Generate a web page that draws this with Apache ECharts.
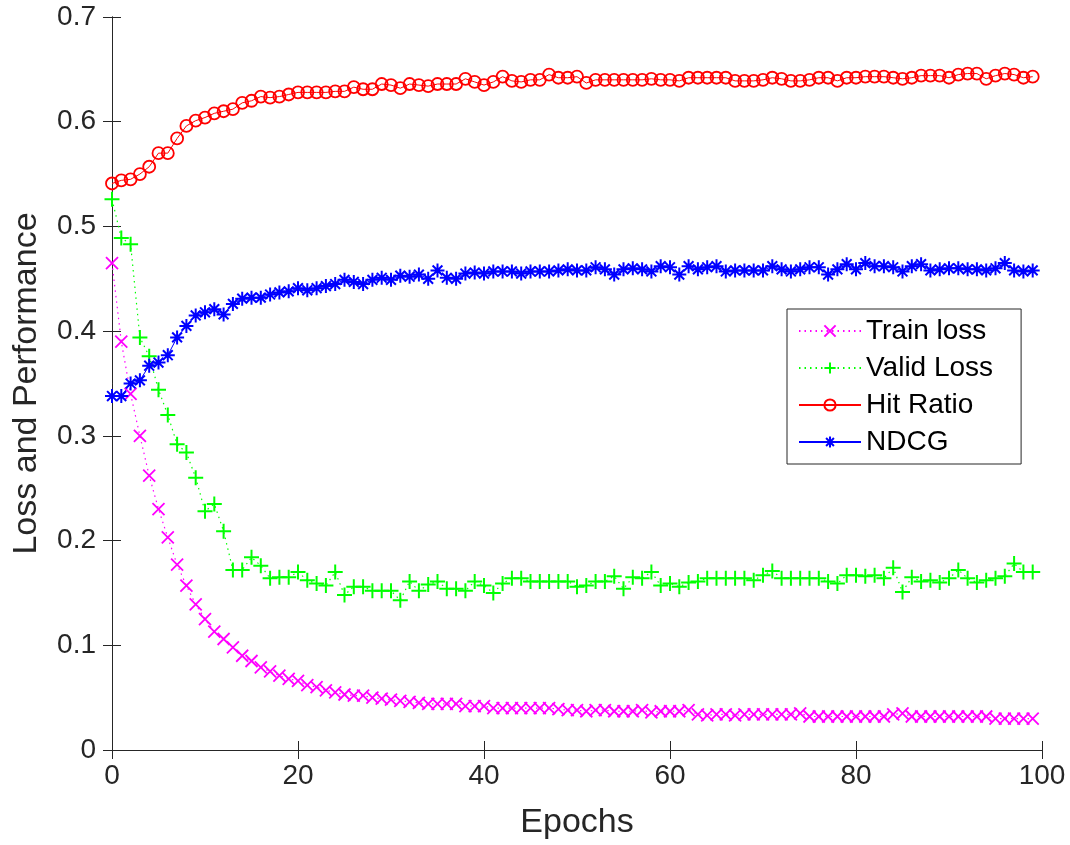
<!DOCTYPE html>
<html style="height: 100%; width: 100%">
  <head>
    <meta charset="utf-8" />
  </head>
  <body style="height: 100%; width: 100%; margin: 0; background: #fff">
    <div id="chart-panel" style="height: 845px; width: 1070px"></div>
    <script
      type="text/javascript"
      src="https://cdn.jsdelivr.net/npm/echarts@6/dist/echarts.min.js"
    ></script>

    <script type="text/javascript">
      // values, one per epoch (0..99)
      var trainLoss = [
        0.465, 0.39, 0.34, 0.3, 0.262, 0.23, 0.203, 0.177, 0.157, 0.139,
        0.125, 0.113, 0.106, 0.098, 0.09, 0.085, 0.079, 0.075, 0.071, 0.068,
        0.066, 0.062, 0.06, 0.057, 0.055, 0.053, 0.052, 0.052, 0.05, 0.049,
        0.048, 0.047, 0.046, 0.045, 0.044, 0.044, 0.044, 0.044, 0.042, 0.042,
        0.042, 0.04, 0.04, 0.04, 0.04, 0.04, 0.04, 0.04, 0.039, 0.038,
        0.038, 0.037, 0.038, 0.038, 0.037, 0.037, 0.037, 0.038, 0.036, 0.037,
        0.037, 0.037, 0.038, 0.034, 0.033, 0.034, 0.034, 0.033, 0.034, 0.034,
        0.034, 0.034, 0.034, 0.034, 0.035, 0.032, 0.032, 0.032, 0.032, 0.032,
        0.032, 0.032, 0.032, 0.032, 0.034, 0.035, 0.032, 0.032, 0.032, 0.032,
        0.032, 0.032, 0.032, 0.032, 0.032, 0.03, 0.03, 0.03, 0.03, 0.03
      ];
      var validLoss = [
        0.526, 0.489, 0.483, 0.394, 0.376, 0.344, 0.32, 0.292, 0.284, 0.26,
        0.228, 0.235, 0.209, 0.172, 0.172, 0.184, 0.176, 0.164, 0.165, 0.165,
        0.17, 0.162, 0.159, 0.157, 0.17, 0.148, 0.156, 0.156, 0.152, 0.152,
        0.152, 0.143, 0.161, 0.152, 0.158, 0.161, 0.154, 0.154, 0.152, 0.161,
        0.157, 0.15, 0.159, 0.164, 0.164, 0.161, 0.161, 0.161, 0.161, 0.161,
        0.156, 0.157, 0.161, 0.161, 0.166, 0.154, 0.165, 0.164, 0.17, 0.157,
        0.159, 0.156, 0.16, 0.161, 0.164, 0.164, 0.164, 0.164, 0.164, 0.162,
        0.167, 0.171, 0.164, 0.164, 0.164, 0.164, 0.164, 0.161, 0.159, 0.167,
        0.167, 0.166, 0.167, 0.164, 0.174, 0.151, 0.165, 0.161, 0.162, 0.16,
        0.164, 0.172, 0.164, 0.16, 0.162, 0.164, 0.166, 0.178, 0.17, 0.17
      ];
      var hitRatio = [
        0.541, 0.544, 0.545, 0.55, 0.557, 0.57, 0.57, 0.584, 0.596, 0.601,
        0.604, 0.608, 0.61, 0.612, 0.618, 0.62, 0.624, 0.623, 0.624, 0.626,
        0.628, 0.628, 0.628, 0.628, 0.629, 0.629, 0.633, 0.631, 0.631, 0.636,
        0.635, 0.632, 0.636, 0.635, 0.634, 0.636, 0.636, 0.636, 0.641, 0.638,
        0.635, 0.638, 0.643, 0.639, 0.638, 0.64, 0.64, 0.645, 0.642, 0.642,
        0.643, 0.637, 0.64, 0.64, 0.64, 0.64, 0.64, 0.64, 0.641, 0.64,
        0.64, 0.639, 0.642, 0.642, 0.642, 0.642, 0.642, 0.639, 0.639, 0.639,
        0.64, 0.642, 0.641, 0.639, 0.639, 0.64, 0.642, 0.642, 0.639, 0.642,
        0.642, 0.643, 0.643, 0.643, 0.642, 0.641, 0.642, 0.644, 0.644, 0.644,
        0.642, 0.645, 0.646, 0.646, 0.641, 0.644, 0.646, 0.645, 0.642, 0.643
      ];
      var ndcg = [
        0.338, 0.338, 0.35, 0.353, 0.367, 0.37, 0.377, 0.394, 0.405, 0.415,
        0.418, 0.421, 0.416, 0.426, 0.431, 0.432, 0.432, 0.435, 0.437, 0.438,
        0.441, 0.439, 0.441, 0.443, 0.445, 0.449, 0.447, 0.445, 0.449, 0.451,
        0.449, 0.453, 0.452, 0.454, 0.45, 0.458, 0.451, 0.45, 0.455, 0.456,
        0.455, 0.457, 0.457, 0.457, 0.455, 0.457, 0.457, 0.457, 0.458, 0.459,
        0.458, 0.458, 0.461, 0.459, 0.454, 0.459, 0.46, 0.459, 0.457, 0.462,
        0.461, 0.454, 0.462, 0.459, 0.461, 0.462, 0.457, 0.458, 0.458, 0.458,
        0.458, 0.462, 0.459, 0.457, 0.459, 0.461, 0.461, 0.454, 0.459, 0.464,
        0.459, 0.465, 0.462, 0.462, 0.461, 0.457, 0.462, 0.464, 0.458, 0.459,
        0.46, 0.46, 0.459, 0.459, 0.458, 0.46, 0.465, 0.458, 0.457, 0.458
      ];
      var seriesNames = ["Train loss", "Valid Loss", "Hit Ratio", "NDCG"];

      var axisColor = "#262626";
      var font = "Liberation Sans, Arial, Helvetica, sans-serif";

      // marker shapes drawn as strokes
      var crossPath = "path://M0,0L10,10M10,0L0,10";
      var plusPath = "path://M5,0L5,10M0,5L10,5";
      var starPath =
        "path://M5,0L5,10M0,5L10,5M1.5,1.5L8.5,8.5M8.5,1.5L1.5,8.5";

      function pairs(arr) {
        return arr.map(function (v, i) {
          return [i, v];
        });
      }

      var dom = document.getElementById("chart-panel");
      var myChart = echarts.init(dom, null, { renderer: "canvas" });

      var boxAxis = {
        axisLine: { show: true, lineStyle: { color: axisColor, width: 1 } },
        axisTick: { show: true, inside: true, length: 9, lineStyle: { color: axisColor } },
        splitLine: { show: false },
      };

      var option = {
        backgroundColor: "#fff",
        animation: false,
        grid: { left: 112, top: 17, right: 28, bottom: 93 },
        legend: {
          orient: "vertical",
          left: 787,
          top: 309,
          padding: [8, 28, 8, 11],
          itemGap: 9,
          itemWidth: 62,
          itemHeight: 14,
          borderColor: axisColor,
          borderWidth: 1,
          backgroundColor: "#fff",
          textStyle: { fontFamily: font, fontSize: 28, color: "#000" },
          data: seriesNames,
        },
        xAxis: [
          Object.assign({}, boxAxis, {
            type: "value",
            min: 0,
            max: 100,
            interval: 20,
            name: "Epochs",
            nameLocation: "middle",
            nameGap: 56,
            nameTextStyle: { fontFamily: font, fontSize: 34, color: axisColor },
            axisLabel: { fontFamily: font, fontSize: 28, color: axisColor, margin: 12 },
          }),
          Object.assign({}, boxAxis, {
            type: "value",
            position: "top",
            min: 0,
            max: 100,
            interval: 20,
            axisLabel: { show: false },
          }),
        ],
        yAxis: [
          Object.assign({}, boxAxis, {
            type: "value",
            min: 0,
            max: 0.7,
            interval: 0.1,
            name: "Loss and Performance",
            nameLocation: "middle",
            nameGap: 68,
            nameTextStyle: { fontFamily: font, fontSize: 34, color: axisColor },
            axisLabel: { fontFamily: font, fontSize: 28, color: axisColor, margin: 16 },
          }),
          Object.assign({}, boxAxis, {
            type: "value",
            position: "right",
            min: 0,
            max: 0.7,
            interval: 0.1,
            axisLabel: { show: false },
          }),
        ],
        series: [
          {
            name: seriesNames[0],
            type: "line",
            data: pairs(trainLoss),
            symbol: crossPath,
            symbolSize: 12,
            color: "#ff00ff",
            itemStyle: { color: "transparent", borderColor: "#ff00ff", borderWidth: 1.8 },
            lineStyle: { color: "#ff00ff", width: 1.2, type: [1.5, 4] },
          },
          {
            name: seriesNames[1],
            type: "line",
            data: pairs(validLoss),
            symbol: plusPath,
            symbolSize: 15,
            color: "#00ff00",
            itemStyle: { color: "transparent", borderColor: "#00ff00", borderWidth: 2 },
            lineStyle: { color: "#00ff00", width: 1.2, type: [1.5, 4] },
          },
          {
            name: seriesNames[2],
            type: "line",
            data: pairs(hitRatio),
            symbol: "circle",
            symbolSize: 12,
            color: "#ff0000",
            itemStyle: { color: "transparent", borderColor: "#ff0000", borderWidth: 1.8 },
            lineStyle: { color: "#ff0000", width: 1 },
          },
          {
            name: seriesNames[3],
            type: "line",
            data: pairs(ndcg),
            symbol: starPath,
            symbolSize: 14,
            color: "#0000ff",
            itemStyle: { color: "transparent", borderColor: "#0000ff", borderWidth: 2 },
            lineStyle: { color: "#0000ff", width: 1 },
          },
        ],
      };
      myChart.setOption(option);
    </script>
  </body>
</html>
